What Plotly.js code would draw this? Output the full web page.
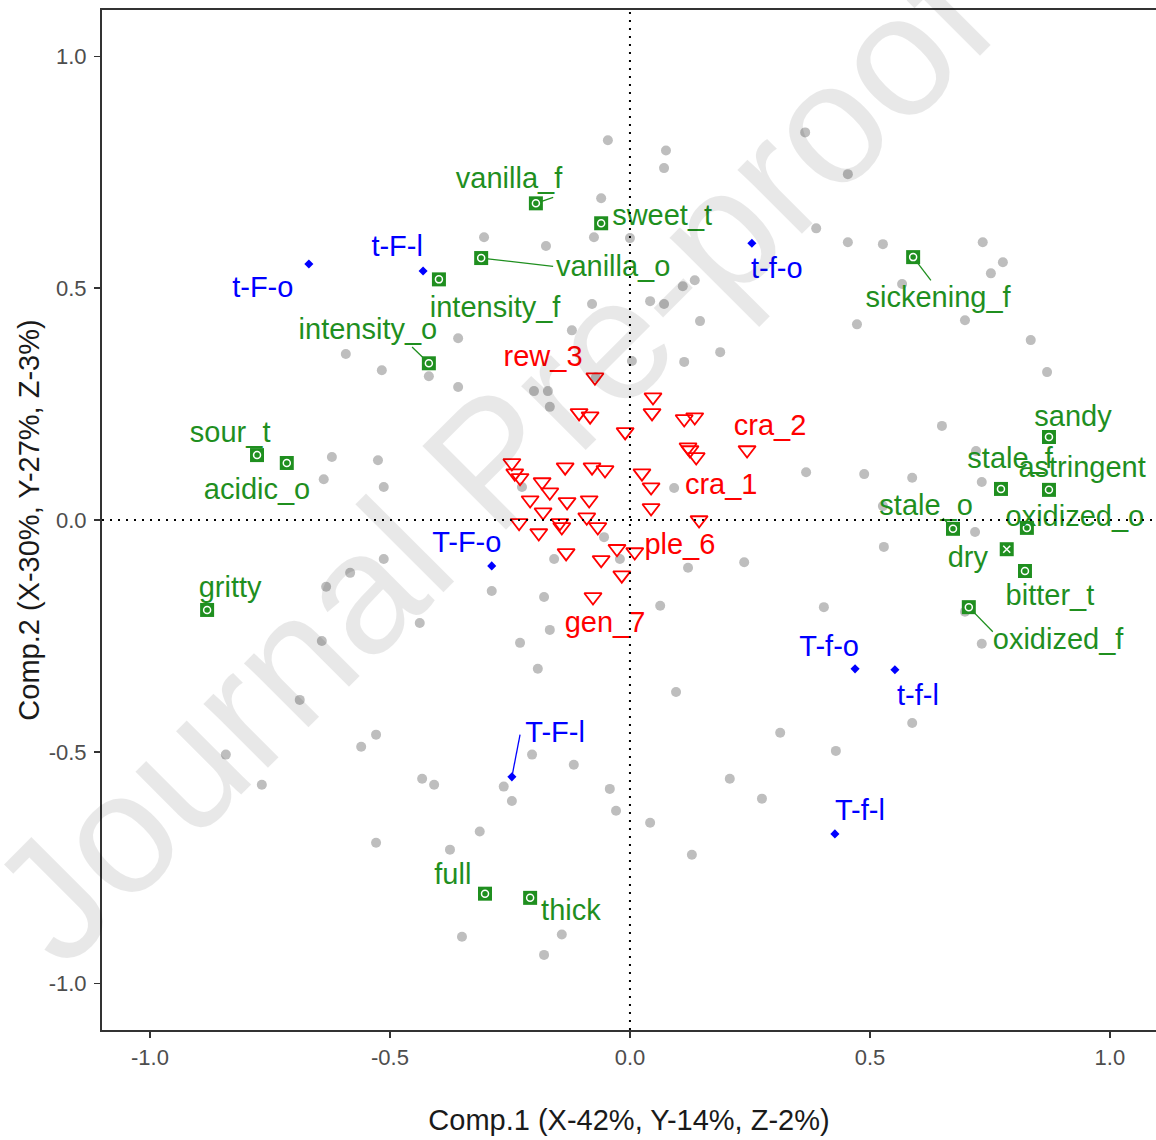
<!DOCTYPE html>
<html>
<head>
<meta charset="utf-8">
<script src="https://cdn.plot.ly/plotly-3.0.1.min.js"></script>
<style>html,body{margin:0;padding:0;background:#fff;}#chart{width:1156px;height:1140px;}</style>
</head>
<body>
<div id="chart"></div>
<script>
// ---------- DATA ----------
// grey points (objects)
const greyX = [-0.046,0.075,0.071,0.365,0.454,-0.060,-0.075,0.000,0.388,-0.304,-0.175,0.454,0.527,0.735,0.777,0.752,
  0.135,0.110,0.042,0.071,0.146,0.473,0.698,0.567,0.835,0.869,-0.079,-0.121,-0.358,-0.592,-0.517,-0.419,
  0.188,0.113,0.004,-0.071,-0.200,-0.171,-0.167,-0.358,0.650,0.367,0.488,0.588,0.721,0.733,0.092,0.527,
  0.719,0.529,0.238,0.121,0.063,0.404,0.698,0.733,0.096,0.588,0.313,0.429,0.208,0.275,0.042,0.129,
  -0.621,-0.525,-0.638,-0.513,-0.225,-0.054,-0.513,-0.583,-0.633,-0.288,-0.158,-0.021,-0.179,-0.438,-0.642,-0.167,
  -0.229,-0.192,-0.688,-0.529,-0.560,-0.842,-0.767,-0.433,-0.408,-0.204,-0.117,-0.263,-0.246,-0.042,-0.029,-0.313,
  -0.375,-0.529,-0.350,-0.142,-0.179];
const greyY = [0.819,0.797,0.759,0.836,0.746,0.694,0.610,0.608,0.629,0.610,0.591,0.599,0.595,0.599,0.556,0.532,
  0.517,0.504,0.472,0.466,0.429,0.422,0.431,0.509,0.388,0.319,0.466,0.409,0.392,0.358,0.323,0.310,
  0.362,0.341,0.343,0.308,0.278,0.278,0.244,0.287,0.203,0.103,0.099,0.091,0.149,0.082,0.069,0.030,
  -0.026,-0.058,-0.091,-0.103,-0.185,-0.188,-0.198,-0.267,-0.371,-0.438,-0.459,-0.498,-0.558,-0.601,-0.653,-0.722,
  0.136,0.129,0.088,0.071,0.071,-0.037,-0.084,-0.114,-0.144,-0.153,-0.084,-0.084,-0.166,-0.222,-0.261,-0.237,
  -0.265,-0.321,-0.388,-0.463,-0.489,-0.506,-0.571,-0.558,-0.571,-0.506,-0.528,-0.575,-0.606,-0.580,-0.627,-0.672,
  -0.711,-0.696,-0.899,-0.894,-0.938];

// red triangles (samples)
const sampleX = [-0.073,0.048,0.046,-0.106,-0.083,0.113,0.135,-0.010,0.121,0.125,0.138,0.244,-0.246,-0.240,-0.229,-0.135,
  -0.079,-0.052,0.025,0.044,-0.183,-0.167,-0.208,-0.131,-0.085,-0.181,-0.090,0.044,-0.231,-0.146,-0.142,-0.067,
  0.144,-0.190,-0.133,-0.060,-0.027,0.010,-0.017,-0.077];
const sampleY = [0.308,0.265,0.231,0.231,0.224,0.218,0.222,0.190,0.157,0.151,0.136,0.151,0.123,0.101,0.091,0.114,
  0.114,0.108,0.101,0.071,0.082,0.060,0.043,0.039,0.043,0.017,0.006,0.026,-0.006,-0.006,-0.015,-0.015,
  0.000,-0.028,-0.071,-0.086,-0.062,-0.069,-0.119,-0.166];
const sampleLabels = ['rew_3','cra_2','cra_1','ple_6','gen_7'];
const sampleLabelX = [-0.181,0.292,0.190,0.104,-0.052];
const sampleLabelY = [0.347,0.198,0.071,-0.058,-0.226];

// blue points (design factors)
const factorNames = ['t-F-o','t-F-l','t-f-o','T-F-o','T-F-l','T-f-o','t-f-l','T-f-l'];
const factorX = [-0.669,-0.431,0.254,-0.288,-0.246,0.469,0.552,0.427];
const factorY = [0.552,0.537,0.597,-0.099,-0.554,-0.321,-0.323,-0.677];
const factorLabelX = [-0.765,-0.485,0.306,-0.340,-0.156,0.415,0.600,0.479];
const factorLabelY = [0.496,0.584,0.537,-0.054,-0.463,-0.278,-0.384,-0.631];
const factorSegX = [null,null,null,null,-0.229,null,null,null];
const factorSegY = [null,null,null,null,-0.463,null,null,null];

// green squares (sensory attributes)
const attrNames = ['vanilla_f','sweet_t','vanilla_o','intensity_f','intensity_o','sour_t','acidic_o','gritty',
  'sickening_f','sandy','stale_f','astringent','stale_o','oxidized_o','dry','bitter_t','oxidized_f','full','thick'];
const attrX = [-0.196,-0.060,-0.310,-0.398,-0.419,-0.777,-0.715,-0.881,0.590,0.873,0.773,0.873,0.673,0.827,0.785,0.823,0.706,-0.302,-0.208];
const attrY = [0.683,0.640,0.565,0.519,0.338,0.140,0.123,-0.194,0.567,0.179,0.067,0.065,-0.019,-0.017,-0.063,-0.110,-0.188,-0.806,-0.815];
const attrLabelX = [-0.252,0.067,-0.035,-0.281,-0.546,-0.833,-0.777,-0.833,0.642,0.923,0.792,0.942,0.617,0.927,0.704,0.875,0.892,-0.369,-0.123];
const attrLabelY = [0.731,0.651,0.543,0.453,0.405,0.183,0.060,-0.151,0.474,0.218,0.127,0.108,0.026,0.002,-0.086,-0.168,-0.263,-0.769,-0.847];
const attrSegX = [-0.160,null,-0.160,null,-0.454,null,null,null,0.627,null,null,null,0.652,null,null,null,0.756,null,null];
const attrSegY = [0.696,null,0.547,null,0.373,null,null,null,0.517,null,null,null,0.004,null,null,null,-0.241,null,null];

// axes
const tickVals = [-1.0,-0.5,0.0,0.5,1.0];
const tickLabels = ['-1.0','-0.5','0.0','0.5','1.0'];
const xTitle = 'Comp.1 (X-42%, Y-14%, Z-2%)';
const yTitle = 'Comp.2 (X-30%, Y-27%, Z-3%)';
const watermark = 'Journal Pre-proof';

// ---------- STYLE ----------
const FONT = 'Liberation Sans, Arial, Helvetica, sans-serif';
const GREEN = '#1f8f1f';
const RED = '#ff0000';
const BLUE = '#0000ff';
const GREY = '#bebebe';

function segs(px, py, sx, sy) {
  const X = [], Y = [];
  for (let i = 0; i < px.length; i++) {
    if (sx[i] === null) continue;
    X.push(px[i], sx[i], null);
    Y.push(py[i], sy[i], null);
  }
  return {X, Y};
}
const gSeg = segs(attrX, attrY, attrSegX, attrSegY);
const bSeg = segs(factorX, factorY, factorSegX, factorSegY);
const innerSymbols = attrNames.map(n => n === 'dry' ? 'x-thin-open' : 'circle-open');

const traces = [
  {type:'scatter', mode:'markers', x:greyX, y:greyY, hoverinfo:'skip',
   marker:{color:GREY, size:10, symbol:'circle'}},
  {type:'scatter', mode:'markers', x:sampleX, y:sampleY, hoverinfo:'skip',
   marker:{color:RED, size:15, symbol:'triangle-down-open', line:{color:RED, width:1.8}}},
  {type:'scatter', mode:'lines', x:gSeg.X, y:gSeg.Y, hoverinfo:'skip', line:{color:GREEN, width:1.3}},
  {type:'scatter', mode:'lines', x:bSeg.X, y:bSeg.Y, hoverinfo:'skip', line:{color:BLUE, width:1.3}},
  {type:'scatter', mode:'markers', x:factorX, y:factorY, hoverinfo:'skip',
   marker:{color:BLUE, size:7, symbol:'diamond'}},
  {type:'scatter', mode:'markers', x:attrX, y:attrY, hoverinfo:'skip',
   marker:{color:GREEN, size:14, symbol:'square'}},
  {type:'scatter', mode:'markers', x:attrX, y:attrY, hoverinfo:'skip',
   marker:{color:'white', size:7, symbol:innerSymbols, line:{color:'white', width:1.5}}},
  {type:'scatter', mode:'text', x:attrLabelX, y:attrLabelY, text:attrNames, hoverinfo:'skip',
   textposition:'middle center', textfont:{family:FONT, size:29, color:GREEN}},
  {type:'scatter', mode:'text', x:factorLabelX, y:factorLabelY, text:factorNames, hoverinfo:'skip',
   textposition:'middle center', textfont:{family:FONT, size:29, color:BLUE}},
  {type:'scatter', mode:'text', x:sampleLabelX, y:sampleLabelY, text:sampleLabels, hoverinfo:'skip',
   textposition:'middle center', textfont:{family:FONT, size:29, color:RED}}
];

const axisCommon = {
  showgrid:false, zeroline:false, showline:true, mirror:true, linecolor:'#333333', linewidth:2,
  ticks:'outside', ticklen:6, tickwidth:1.5, tickcolor:'#333333',
  tickmode:'array', tickvals:tickVals, ticktext:tickLabels,
  tickfont:{family:FONT, size:22, color:'#4d4d4d'}
};

const layout = {
  width:1156, height:1140,
  margin:{l:102, r:0, t:10, b:110},
  paper_bgcolor:'white', plot_bgcolor:'white',
  showlegend:false,
  font:{family:FONT},
  xaxis:Object.assign({}, axisCommon, {range:[-1.1,1.096], ticklabelstandoff:1,
    title:{text:xTitle, font:{family:FONT, size:29, color:'#1a1a1a'}, standoff:40}}),
  yaxis:Object.assign({}, axisCommon, {range:[-1.1,1.1], ticklabelstandoff:3,
    title:{text:yTitle, font:{family:FONT, size:29, color:'#1a1a1a'}, standoff:1}}),
  shapes:[
    {type:'line', xref:'x', yref:'paper', x0:0, x1:0, y0:0, y1:1, line:{color:'#000', width:2, dash:'2px,6px'}},
    {type:'line', xref:'paper', yref:'y', x0:0, x1:1, y0:0, y1:0, line:{color:'#000', width:2, dash:'2px,6px'}}
  ],
  annotations:[
    {xref:'x', yref:'y', x:-0.29, y:0.13, text:watermark, showarrow:false, textangle:-45,
     font:{family:FONT, size:172, color:'rgba(0,0,0,0.09)'}}
  ]
};

Plotly.newPlot('chart', traces, layout, {staticPlot:true, displayModeBar:false});
</script>
</body>
</html>
